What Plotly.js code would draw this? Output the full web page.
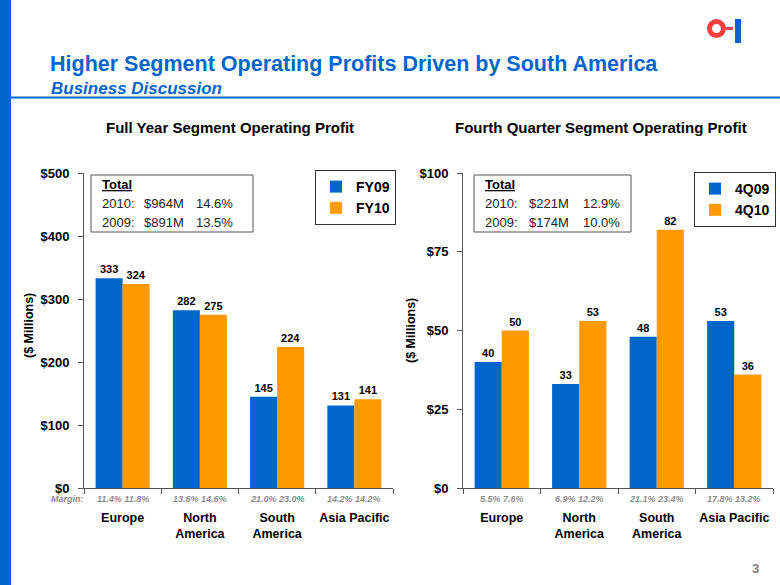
<!DOCTYPE html>
<html>
<head>
<meta charset="utf-8">
<script src="https://cdn.plot.ly/plotly-3.0.1.min.js"></script>
<style>html,body{margin:0;padding:0;background:#fff;}#chart{width:780px;height:585px;}</style>
</head>
<body>
<div id="chart"></div>
<script>
// ---- Data ----
const categories = ['Europe', 'North<br>America', 'South<br>America', 'Asia Pacific'];
const fy09 = [333, 282, 145, 131];
const fy10 = [324, 275, 224, 141];
const q409 = [40, 33, 48, 53];
const q410 = [50, 53, 82, 36];
const fyMargin09 = ['11.4%', '13.6%', '21.0%', '14.2%'];
const fyMargin10 = ['11.8%', '14.6%', '23.0%', '14.2%'];
const qMargin09 = ['5.5%', '6.9%', '21.1%', '17.8%'];
const qMargin10 = ['7.6%', '12.2%', '23.4%', '13.2%'];
const fyTicks = [0, 100, 200, 300, 400, 500];
const qTicks = [0, 25, 50, 75, 100];
const fyTotals = [['2010:', '$964M', '14.6%'], ['2009:', '$891M', '13.5%']];
const qTotals = [['2010:', '$221M', '12.9%'], ['2009:', '$174M', '10.0%']];

const BLUE = '#0066CC', ORANGE = '#FF9900';
const FONT = 'Liberation Sans, Arial, sans-serif';
const W = 780, H = 585;
const px = x => x / W;
const py = y => 1 - y / H;

function barTrace(name, vals, color, xa, ya, legend) {
  return {
    type: 'bar', name: name, x: categories, y: vals, xaxis: xa, yaxis: ya, legend: legend,
    marker: {color: color, line: {width: 0}},
    text: vals.map(String), textposition: 'outside', cliponaxis: false,
    textfont: {family: FONT, size: 11, color: '#000', weight: 'bold'},
    hoverinfo: 'skip'
  };
}

const data = [
  barTrace('FY09', fy09, BLUE, 'x', 'y', 'legend'),
  barTrace('FY10', fy10, ORANGE, 'x', 'y', 'legend'),
  barTrace('4Q09', q409, BLUE, 'x2', 'y2', 'legend2'),
  barTrace('4Q10', q410, ORANGE, 'x2', 'y2', 'legend2')
];

const yDom = [py(488), py(173)];
function xAxis(dom, anchor) {
  return {
    domain: dom, anchor: anchor, type: 'category', showline: true, linecolor: '#555', linewidth: 1,
    ticks: 'outside', tickson: 'boundaries', ticklen: 5, tickcolor: '#555', tickangle: 0,
    tickfont: {family: FONT, size: 12.5, color: '#000', weight: 'bold'},
    ticklabelstandoff: 18, showgrid: false, zeroline: false, fixedrange: true
  };
}
function yAxis(range, ticks, anchor) {
  return {
    domain: yDom, anchor: anchor, range: range, tickmode: 'array', tickvals: ticks,
    ticktext: ticks.map(v => '$' + v),
    showline: true, linecolor: '#555', linewidth: 1, ticks: 'outside', ticklen: 5, tickcolor: '#555',
    ticklabelstandoff: 6,
    tickfont: {family: FONT, size: 13, color: '#000', weight: 'bold'},
    showgrid: false, zeroline: false, fixedrange: true
  };
}

const annotations = [];
const shapes = [];

// Title area
annotations.push({xref: 'paper', yref: 'paper', x: px(48), y: py(64), xanchor: 'left', yanchor: 'middle',
  text: 'Higher Segment Operating Profits Driven by South America', showarrow: false,
  font: {family: FONT, size: 21.5, color: BLUE, weight: 'bold'}});
annotations.push({xref: 'paper', yref: 'paper', x: px(49), y: py(88), xanchor: 'left', yanchor: 'middle',
  text: '<i>Business Discussion</i>', showarrow: false,
  font: {family: FONT, size: 17, color: BLUE, weight: 'bold', style: 'italic'}});
// Chart subtitles
annotations.push({xref: 'paper', yref: 'paper', x: px(230), y: py(127), xanchor: 'center', yanchor: 'middle',
  text: 'Full Year Segment Operating Profit', showarrow: false,
  font: {family: FONT, size: 15, color: '#000', weight: 'bold'}});
annotations.push({xref: 'paper', yref: 'paper', x: px(601), y: py(127), xanchor: 'center', yanchor: 'middle',
  text: 'Fourth Quarter Segment Operating Profit', showarrow: false,
  font: {family: FONT, size: 15, color: '#000', weight: 'bold'}});
// Y axis titles
[[29, 326], [411, 331]].forEach(([xx, yy]) => {
  annotations.push({xref: 'paper', yref: 'paper', x: px(xx), y: py(yy), xanchor: 'center', yanchor: 'middle',
    text: '($ Millions)', textangle: -90, showarrow: false,
    font: {family: FONT, size: 12.5, color: '#000', weight: 'bold'}});
});
// Margin labels
annotations.push({xref: 'paper', yref: 'paper', x: px(67), y: py(499), xanchor: 'center', yanchor: 'middle',
  text: '<i>Margin:</i>', showarrow: false, font: {family: FONT, size: 9, color: '#8c8c8c', weight: 'bold'}});
categories.forEach((c, i) => {
  annotations.push({xref: 'x', yref: 'paper', x: c, y: py(499), xanchor: 'center', yanchor: 'middle',
    text: '<i>' + fyMargin09[i] + ' ' + fyMargin10[i] + '</i>', showarrow: false,
    font: {family: FONT, size: 9, color: '#8c8c8c', weight: 'bold'}});
  annotations.push({xref: 'x2', yref: 'paper', x: c, y: py(499), xanchor: 'center', yanchor: 'middle',
    text: '<i>' + qMargin09[i] + ' ' + qMargin10[i] + '</i>', showarrow: false,
    font: {family: FONT, size: 9, color: '#8c8c8c', weight: 'bold'}});
});
// Total boxes
function totalBox(x0, x1, cols, rows) {
  shapes.push({type: 'rect', xref: 'paper', yref: 'paper', x0: px(x0), x1: px(x1), y0: py(232), y1: py(175),
    line: {color: '#555', width: 1}, fillcolor: 'rgba(255,255,255,0)'});
  annotations.push({xref: 'paper', yref: 'paper', x: px(cols[0]), y: py(184), xanchor: 'left', yanchor: 'middle',
    text: '<u>Total</u>', showarrow: false, font: {family: FONT, size: 13, color: '#000', weight: 'bold'}});
  rows.forEach((r, ri) => {
    r.forEach((t, ci) => {
      annotations.push({xref: 'paper', yref: 'paper', x: px(cols[ci]), y: py(203 + ri * 19), xanchor: 'left', yanchor: 'middle',
        text: t, showarrow: false, font: {family: FONT, size: 13, color: '#222'}});
    });
  });
}
totalBox(91, 253, [100, 142, 194], fyTotals);
totalBox(474, 631, [483, 527, 581], qTotals);
// Page number
annotations.push({xref: 'paper', yref: 'paper', x: px(755), y: py(568), xanchor: 'center', yanchor: 'middle',
  text: '3', showarrow: false, font: {family: FONT, size: 13, color: '#808080', weight: 'bold'}});

// Decorative shapes: left bar, header rule, logo
shapes.push({type: 'rect', xref: 'paper', yref: 'paper', x0: 0, x1: px(11), y0: 0, y1: 1, fillcolor: BLUE, line: {width: 0}});
shapes.push({type: 'line', xref: 'paper', yref: 'paper', x0: px(11), x1: 1, y0: py(97.5), y1: py(97.5), line: {color: BLUE, width: 2}});
shapes.push({type: 'circle', xref: 'paper', yref: 'paper', x0: px(709.5), x1: px(723.5), y0: py(35.5), y1: py(21.5),
  line: {color: '#F04040', width: 5}, fillcolor: 'rgba(0,0,0,0)'});
shapes.push({type: 'rect', xref: 'paper', yref: 'paper', x0: px(726), x1: px(733), y0: py(30), y1: py(27), fillcolor: '#F04040', line: {width: 0}});
shapes.push({type: 'rect', xref: 'paper', yref: 'paper', x0: px(735), x1: px(741), y0: py(43), y1: py(19), fillcolor: BLUE, line: {width: 0}});

const legendCommon = {
  bgcolor: '#fff', bordercolor: '#333', borderwidth: 1,
  font: {family: FONT, size: 14, color: '#000', weight: 'bold'},
  xanchor: 'left', yanchor: 'top', itemclick: false, itemdoubleclick: false, tracegroupgap: 0, itemwidth: 30
};

const layout = {
  width: W, height: H, margin: {l: 0, r: 0, t: 0, b: 0},
  paper_bgcolor: '#fff', plot_bgcolor: 'rgba(0,0,0,0)',
  barmode: 'group', bargap: 0.3, bargroupgap: 0,
  showlegend: true,
  xaxis: xAxis([px(84), px(393)], 'y'),
  yaxis: yAxis([0, 500], fyTicks, 'x'),
  xaxis2: xAxis([px(463), px(773)], 'y2'),
  yaxis2: yAxis([0, 100], qTicks, 'x2'),
  legend: Object.assign({x: px(315), y: py(170)}, legendCommon),
  legend2: Object.assign({x: px(694), y: py(172)}, legendCommon),
  annotations: annotations, shapes: shapes,
  font: {family: FONT}
};

Plotly.newPlot('chart', data, layout, {displayModeBar: false, staticPlot: true});
</script>
</body>
</html>
